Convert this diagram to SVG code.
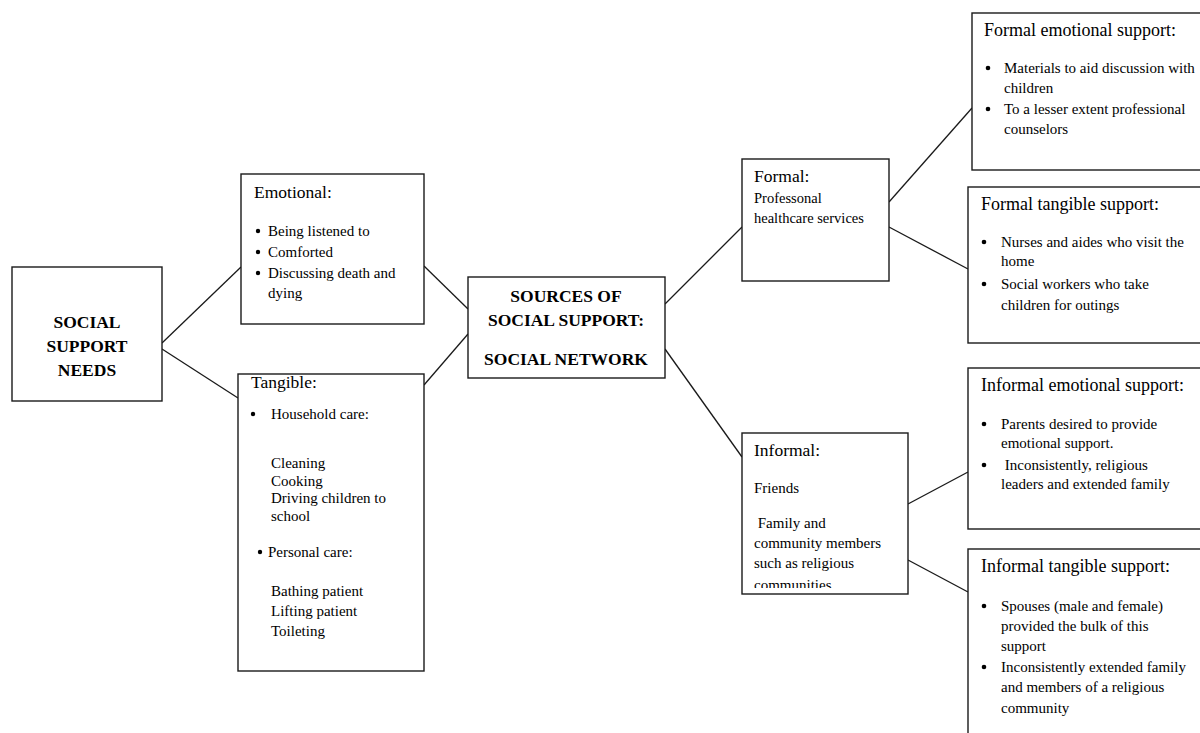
<svg xmlns="http://www.w3.org/2000/svg" width="1200" height="733" viewBox="0 0 1200 733">
<style>
.box{fill:#fff;stroke:#1a1a1a;stroke-width:1.4}
.ln{stroke:#1a1a1a;stroke-width:1.3;fill:none}
.dot{fill:#000}
text{font-family:"Liberation Serif","Times New Roman",serif;fill:#000}
.t{font-size:17.5px}
.tr{font-size:18px}
.b{font-size:15px}
.s{font-size:14.5px}
.hd{font-size:17.5px;font-weight:bold;text-anchor:middle}
</style>
<defs>
<clipPath id="clipInf"><rect x="743" y="434" width="164" height="154"/></clipPath>
</defs>
<rect width="1200" height="733" fill="#fff"/>
<g id="connectors">
<line class="ln" x1="162" y1="343" x2="241" y2="267"/>
<line class="ln" x1="162" y1="349" x2="238" y2="398"/>
<line class="ln" x1="424" y1="266" x2="468" y2="309"/>
<line class="ln" x1="424" y1="385" x2="468" y2="334"/>
<line class="ln" x1="665" y1="304" x2="742" y2="227"/>
<line class="ln" x1="665" y1="349" x2="742" y2="457"/>
<line class="ln" x1="889" y1="202" x2="972" y2="108"/>
<line class="ln" x1="889" y1="227" x2="968" y2="269"/>
<line class="ln" x1="908" y1="504" x2="968" y2="472"/>
<line class="ln" x1="908" y1="560" x2="968" y2="592"/>
</g>
<g id="needs">
<rect class="box" x="12" y="267" width="150" height="134"/>
<text class="hd" x="87" y="328">SOCIAL</text>
<text class="hd" x="87" y="352">SUPPORT</text>
<text class="hd" x="87" y="376">NEEDS</text>
</g>
<g id="emotional">
<rect class="box" x="241" y="174" width="183" height="150"/>
<text class="t" x="254" y="198">Emotional:</text>
<circle class="dot" cx="258" cy="231" r="2.2"/><text class="b" x="268" y="236">Being listened to</text>
<circle class="dot" cx="258" cy="252" r="2.2"/><text class="b" x="268" y="257">Comforted</text>
<circle class="dot" cx="258" cy="273" r="2.2"/><text class="b" x="268" y="278">Discussing death and</text>
<text class="b" x="268" y="298">dying</text>
</g>
<g id="tangible">
<rect class="box" x="238" y="374" width="186" height="297"/>
<text class="t" x="251" y="388">Tangible:</text>
<circle class="dot" cx="253" cy="414" r="2.2"/><text class="b" x="271" y="419">Household care:</text>
<text class="b" x="271" y="468">Cleaning</text>
<text class="b" x="271" y="486">Cooking</text>
<text class="b" x="271" y="503">Driving children to</text>
<text class="b" x="271" y="521">school</text>
<circle class="dot" cx="260" cy="552" r="2.2"/><text class="b" x="268" y="557">Personal care:</text>
<text class="b" x="271" y="596">Bathing patient</text>
<text class="b" x="271" y="616">Lifting patient</text>
<text class="b" x="271" y="636">Toileting</text>
</g>
<g id="sources">
<rect class="box" x="468" y="277" width="197" height="101"/>
<text class="hd" x="566" y="302">SOURCES OF</text>
<text class="hd" x="566" y="326">SOCIAL SUPPORT:</text>
<text class="hd" x="566" y="365">SOCIAL NETWORK</text>
</g>
<g id="formal">
<rect class="box" x="742" y="159" width="147" height="122"/>
<text class="t" x="754" y="182">Formal:</text>
<text class="s" x="754" y="203">Professonal</text>
<text class="s" x="754" y="223">healthcare services</text>
</g>
<g id="informal">
<rect class="box" x="742" y="433" width="166" height="161"/>
<g clip-path="url(#clipInf)">
<text class="t" x="754" y="456">Informal:</text>
<text class="b" x="754" y="493">Friends</text>
<text class="b" x="754" y="528" xml:space="preserve"> Family and</text>
<text class="b" x="754" y="548">community members</text>
<text class="b" x="754" y="568">such as religious</text>
<text class="b" x="754" y="590">communities</text>
</g>
</g>
<g id="formal-emotional">
<rect class="box" x="972" y="13" width="240" height="157"/>
<text class="tr" x="984" y="36">Formal emotional support:</text>
<circle class="dot" cx="988" cy="68" r="2.3"/><text class="b" x="1004" y="73">Materials to aid discussion with</text>
<text class="b" x="1004" y="93">children</text>
<circle class="dot" cx="988" cy="109" r="2.3"/><text class="b" x="1004" y="114">To a lesser extent professional</text>
<text class="b" x="1004" y="134">counselors</text>
</g>
<g id="formal-tangible">
<rect class="box" x="968" y="187" width="244" height="156"/>
<text class="tr" x="981" y="210">Formal tangible support:</text>
<circle class="dot" cx="984" cy="242" r="2.3"/><text class="b" x="1001" y="247">Nurses and aides who visit the</text>
<text class="b" x="1001" y="266">home</text>
<circle class="dot" cx="984" cy="284" r="2.3"/><text class="b" x="1001" y="289">Social workers who take</text>
<text class="b" x="1001" y="310">children for outings</text>
</g>
<g id="informal-emotional">
<rect class="box" x="968" y="368" width="244" height="161"/>
<text class="tr" x="981" y="391">Informal emotional support:</text>
<circle class="dot" cx="984" cy="424" r="2.3"/><text class="b" x="1001" y="429">Parents desired to provide</text>
<text class="b" x="1001" y="448">emotional support.</text>
<circle class="dot" cx="984" cy="465" r="2.3"/><text class="b" x="1001" y="470" xml:space="preserve"> Inconsistently, religious</text>
<text class="b" x="1001" y="489">leaders and extended family</text>
</g>
<g id="informal-tangible">
<rect class="box" x="968" y="549" width="244" height="200"/>
<text class="tr" x="981" y="572">Informal tangible support:</text>
<circle class="dot" cx="984" cy="606" r="2.3"/><text class="b" x="1001" y="611">Spouses (male and female)</text>
<text class="b" x="1001" y="631">provided the bulk of this</text>
<text class="b" x="1001" y="651">support</text>
<circle class="dot" cx="984" cy="667" r="2.3"/><text class="b" x="1001" y="672">Inconsistently extended family</text>
<text class="b" x="1001" y="692">and members of a religious</text>
<text class="b" x="1001" y="713">community</text>
</g>
</svg>
